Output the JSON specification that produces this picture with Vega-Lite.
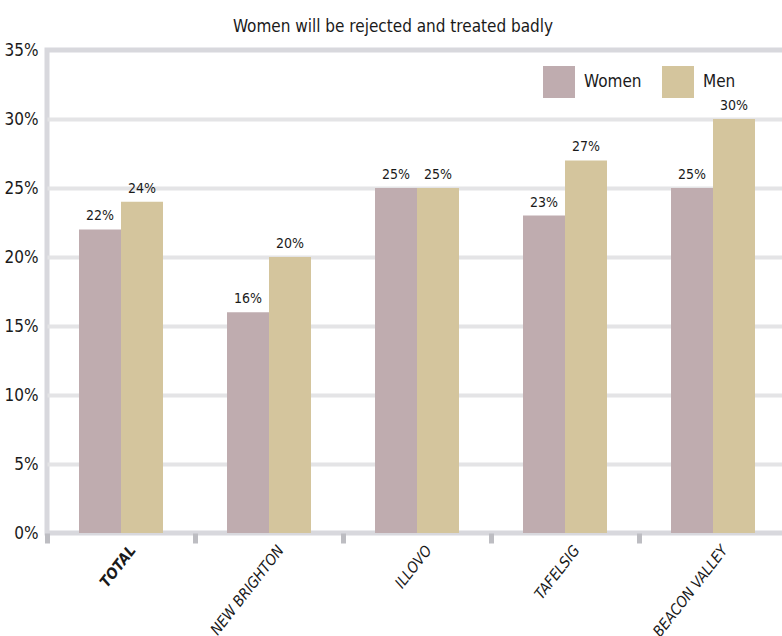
{
  "$schema": "https://vega.github.io/schema/vega-lite/v6.json",
  "width": 740,
  "height": 483,
  "autosize": {"type": "none"},
  "padding": {"left": 47, "top": 50, "right": 0, "bottom": 103},
  "background": "white",
  "title": {
    "text": "Women will be rejected and treated badly",
    "font": "DejaVu Sans Condensed",
    "fontSize": 17,
    "fontWeight": "normal",
    "color": "#1a1a1a",
    "anchor": "middle",
    "offset": 5,
    "dx": -24
  },
  "config": {
    "view": {"stroke": "#d8d8dd", "strokeWidth": 5},
    "font": "DejaVu Sans Condensed"
  },
  "data": {
    "values": [
      {"area": "TOTAL", "group": "Women", "pct": 0.22},
      {"area": "TOTAL", "group": "Men", "pct": 0.24},
      {"area": "NEW BRIGHTON", "group": "Women", "pct": 0.16},
      {"area": "NEW BRIGHTON", "group": "Men", "pct": 0.20},
      {"area": "ILLOVO", "group": "Women", "pct": 0.25},
      {"area": "ILLOVO", "group": "Men", "pct": 0.25},
      {"area": "TAFELSIG", "group": "Women", "pct": 0.23},
      {"area": "TAFELSIG", "group": "Men", "pct": 0.27},
      {"area": "BEACON VALLEY", "group": "Women", "pct": 0.25},
      {"area": "BEACON VALLEY", "group": "Men", "pct": 0.30}
    ]
  },
  "encoding": {
    "x": {
      "field": "area",
      "type": "nominal",
      "sort": ["TOTAL", "NEW BRIGHTON", "ILLOVO", "TAFELSIG", "BEACON VALLEY"],
      "scale": {"paddingInner": 0, "paddingOuter": 0},
      "axis": {
        "title": null,
        "domain": false,
        "tickBand": "extent",
        "tickColor": "#bdbdc2",
        "tickWidth": 5,
        "tickSize": 10,
        "labelAngle": -52,
        "labelAlign": "right",
        "labelBaseline": "middle",
        "labelPadding": 4,
        "labelOffset": 11,
        "labelFont": "DejaVu Sans Condensed",
        "labelFontSize": 15,
        "labelFontStyle": "italic",
        "labelFontWeight": {"condition": {"test": "datum.value === 'TOTAL'", "value": "bold"}, "value": "normal"},
        "labelColor": "#1a1a1a",
        "labelOverlap": false
      }
    },
    "xOffset": {
      "field": "group",
      "type": "nominal",
      "sort": ["Women", "Men"],
      "scale": {"paddingInner": 0, "paddingOuter": 0.762}
    },
    "y": {
      "field": "pct",
      "type": "quantitative",
      "scale": {"domain": [0, 0.35], "nice": false},
      "axis": {
        "title": null,
        "values": [0, 0.05, 0.1, 0.15, 0.2, 0.25, 0.3, 0.35],
        "format": ".0%",
        "domain": false,
        "ticks": false,
        "labelPadding": 9,
        "labelFont": "DejaVu Sans Condensed",
        "labelFontSize": 17,
        "labelColor": "#1a1a1a",
        "gridColor": {"condition": {"test": "datum.value === 0 || datum.value === 0.35", "value": "transparent"}, "value": "#e4e4e6"},
        "gridWidth": 4
      }
    }
  },
  "layer": [
    {
      "mark": {"type": "bar"},
      "encoding": {
        "color": {
          "field": "group",
          "type": "nominal",
          "scale": {"domain": ["Women", "Men"], "range": ["#bfacaf", "#d4c59d"]},
          "legend": {
            "title": null,
            "orient": "none",
            "legendX": 496,
            "legendY": 16,
            "direction": "horizontal",
            "symbolType": "square",
            "symbolSize": 1024,
            "symbolStrokeWidth": 0,
            "symbolOpacity": 1,
            "labelFont": "DejaVu Sans Condensed",
            "labelFontSize": 17,
            "labelColor": "#1a1a1a",
            "labelOffset": 9,
            "columnPadding": 20
          }
        }
      }
    },
    {
      "mark": {
        "type": "text",
        "baseline": "bottom",
        "dy": -6,
        "font": "DejaVu Sans Condensed",
        "fontSize": 14,
        "color": "#1a1a1a"
      },
      "encoding": {
        "text": {"field": "pct", "type": "quantitative", "format": ".0%"},
        "detail": {"field": "group"}
      }
    }
  ]
}
